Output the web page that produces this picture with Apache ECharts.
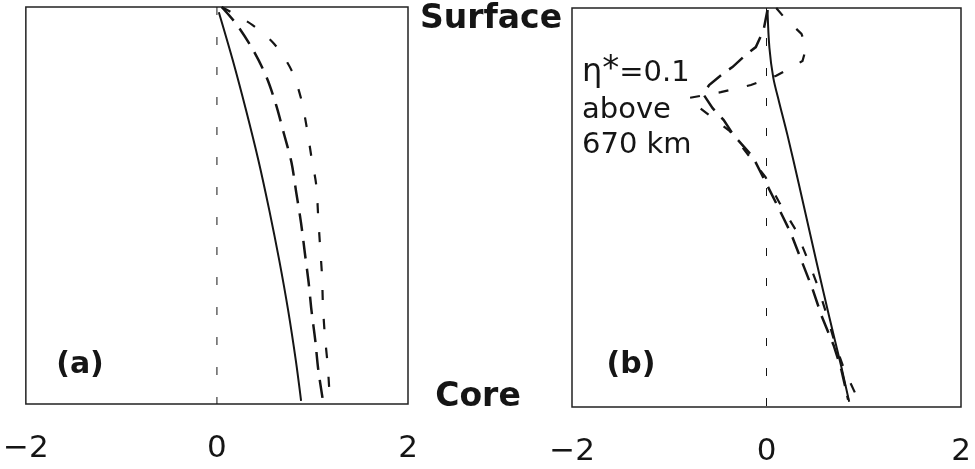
<!DOCTYPE html>
<html>
<head>
<meta charset="utf-8">
<script src="https://cdn.jsdelivr.net/npm/echarts@6/dist/echarts.min.js"></script>
<style>
html,body{margin:0;padding:0;background:#fff;}
#chart{width:975px;height:469px;}
</style>
</head>
<body>
<div id="chart"></div>
<script>
// ---- data (x = anomaly value, depth = 0 surface .. 1 core) ----
const xTicks = [-2, 0, 2];
const zeroLineX = [0, 0];
const zeroLineDepth = [0, 1];

// Panel (a)
const aSolidDepth = [0.013, 0.134, 0.26, 0.386, 0.513, 0.639, 0.765, 0.891, 0.992];
const aSolidX     = [0.02, 0.166, 0.305, 0.434, 0.549, 0.653, 0.746, 0.826, 0.881];

const aLongDepth = [0.0, 0.045, 0.109, 0.177, 0.247, 0.318, 0.391, 0.467, 0.543, 0.619, 0.694, 0.765, 0.841, 0.912, 0.992];
const aLongX     = [0.05, 0.21, 0.38, 0.52, 0.62, 0.70, 0.78, 0.83, 0.88, 0.92, 0.96, 0.99, 1.03, 1.06, 1.11];

const aShortDepth = [0.0, 0.045, 0.093, 0.159, 0.23, 0.303, 0.379, 0.449, 0.528, 0.604, 0.677, 0.753, 0.828, 0.904, 0.98];
const aShortX     = [0.05, 0.37, 0.60, 0.78, 0.88, 0.94, 0.99, 1.04, 1.06, 1.08, 1.10, 1.11, 1.13, 1.16, 1.18];

// Panel (b)
const bSolidDepth = [0.005, 0.10, 0.175, 0.236, 0.318, 0.449, 0.632, 0.774, 0.90, 0.987];
const bSolidX     = [0.01, 0.03, 0.07, 0.13, 0.215, 0.34, 0.51, 0.645, 0.77, 0.85];

const bLongDepth = [0.005, 0.055, 0.098, 0.118, 0.148, 0.163, 0.193, 0.216, 0.251, 0.281, 0.318, 0.373, 0.436, 0.499, 0.564, 0.627, 0.702, 0.774, 0.845, 0.907, 0.982];
const bLongX     = [0.01, -0.03, -0.11, -0.215, -0.35, -0.44, -0.59, -0.65, -0.554, -0.44, -0.34, -0.14, -0.01, 0.12, 0.25, 0.35, 0.47, 0.57, 0.69, 0.77, 0.84];

const bShortDepth = [0.0, 0.02, 0.065, 0.098, 0.133, 0.17, 0.193, 0.211, 0.226, 0.263, 0.308, 0.424, 0.491, 0.556, 0.622, 0.692, 0.762, 0.837, 0.907, 0.98];
const bShortX     = [0.10, 0.17, 0.36, 0.41, 0.37, 0.10, -0.16, -0.47, -0.81, -0.62, -0.38, -0.01, 0.14, 0.30, 0.41, 0.52, 0.61, 0.70, 0.80, 0.94];

// ---- helpers ----
const zip = (xs, ds) => xs.map((x, i) => [x, ds[i]]);
const INK = '#151515';
const FONT = 'DejaVu Sans';

function lineSeries(xs, ds, idx, dash, width, smooth) {
  return {
    type: 'line',
    xAxisIndex: idx,
    yAxisIndex: idx,
    data: zip(xs, ds),
    smooth: smooth,
    showSymbol: false,
    symbol: 'none',
    silent: true,
    animation: false,
    lineStyle: { color: INK, width: width, type: dash, cap: 'butt', join: 'miter' }
  };
}

function xAxis(idx) {
  return {
    type: 'value',
    gridIndex: idx,
    min: xTicks[0],
    max: xTicks[xTicks.length - 1],
    interval: xTicks[1] - xTicks[0],
    axisLine: { show: false },
    axisTick: { show: false },
    splitLine: { show: false },
    axisLabel: {
      show: true,
      margin: 29,
      color: INK,
      fontSize: 31,
      fontFamily: FONT,
      formatter: v => (v < 0 ? '\u2212' + Math.abs(v) : String(v))
    }
  };
}

function yAxis(idx) {
  return {
    type: 'value',
    gridIndex: idx,
    min: 0,
    max: 1,
    inverse: true,
    show: false
  };
}

const chart = echarts.init(document.getElementById('chart'));
chart.setOption({
  backgroundColor: '#fff',
  animation: false,
  grid: [
    { left: 22, top: 7, width: 386, height: 397, show: true, borderColor: '#222', borderWidth: 1.5, backgroundColor: 'transparent' },
    { left: 572, top: 8, width: 389, height: 399, show: true, borderColor: '#222', borderWidth: 1.5, backgroundColor: 'transparent' }
  ],
  xAxis: [xAxis(0), xAxis(1)],
  yAxis: [yAxis(0), yAxis(1)],
  series: [
    lineSeries(zeroLineX, zeroLineDepth, 0, [8, 22], 1, false),
    lineSeries(aSolidX, aSolidDepth, 0, 'solid', 2, 0.3),
    lineSeries(aLongX, aLongDepth, 0, [18, 10], 2.5, 0.3),
    lineSeries(aShortX, aShortDepth, 0, [10, 19], 2.2, 0.3),
    lineSeries(zeroLineX, zeroLineDepth, 1, [8, 22], 1, false),
    lineSeries(bSolidX, bSolidDepth, 1, 'solid', 2, 0.3),
    lineSeries(bLongX, bLongDepth, 1, [18, 10], 2.5, false),
    lineSeries(bShortX, bShortDepth, 1, [10, 19], 2.2, false)
  ],
  graphic: [
    { type: 'text', silent: true, style: { text: 'Surface', x: 491, y: 19, fill: INK, font: 'bold 33px "DejaVu Sans"', align: 'center', verticalAlign: 'middle', textAlign: 'center', textVerticalAlign: 'middle' } },
    { type: 'text', silent: true, style: { text: 'Core', x: 478, y: 397, fill: INK, font: 'bold 33px "DejaVu Sans"', align: 'center', verticalAlign: 'middle', textAlign: 'center', textVerticalAlign: 'middle' } },
    { type: 'text', silent: true, style: { text: '(a)', x: 80, y: 365, fill: INK, font: 'bold 30px "DejaVu Sans"', align: 'center', verticalAlign: 'middle', textAlign: 'center', textVerticalAlign: 'middle' } },
    { type: 'text', silent: true, style: { text: '(b)', x: 631, y: 365, fill: INK, font: 'bold 30px "DejaVu Sans"', align: 'center', verticalAlign: 'middle', textAlign: 'center', textVerticalAlign: 'middle' } },
    { type: 'text', silent: true, style: {
        text: '{e|η}{s|*}{n|=0.1}', x: 582, y: 73, fill: INK,
        align: 'left', verticalAlign: 'middle', textAlign: 'left', textVerticalAlign: 'middle',
        rich: {
          e: { fontSize: 32, fontFamily: FONT, color: INK, lineHeight: 40 },
          s: { fontSize: 34, fontFamily: FONT, color: INK, lineHeight: 26, verticalAlign: 'top' },
          n: { fontSize: 29, fontFamily: FONT, color: INK, lineHeight: 40 }
        }
      } },
    { type: 'text', silent: true, style: { text: 'above', x: 582, y: 110, fill: INK, font: '29px "DejaVu Sans"', align: 'left', verticalAlign: 'middle', textAlign: 'left', textVerticalAlign: 'middle' } },
    { type: 'text', silent: true, style: { text: '670 km', x: 582, y: 145, fill: INK, font: '29px "DejaVu Sans"', align: 'left', verticalAlign: 'middle', textAlign: 'left', textVerticalAlign: 'middle' } }
  ]
});
</script>
</body>
</html>
